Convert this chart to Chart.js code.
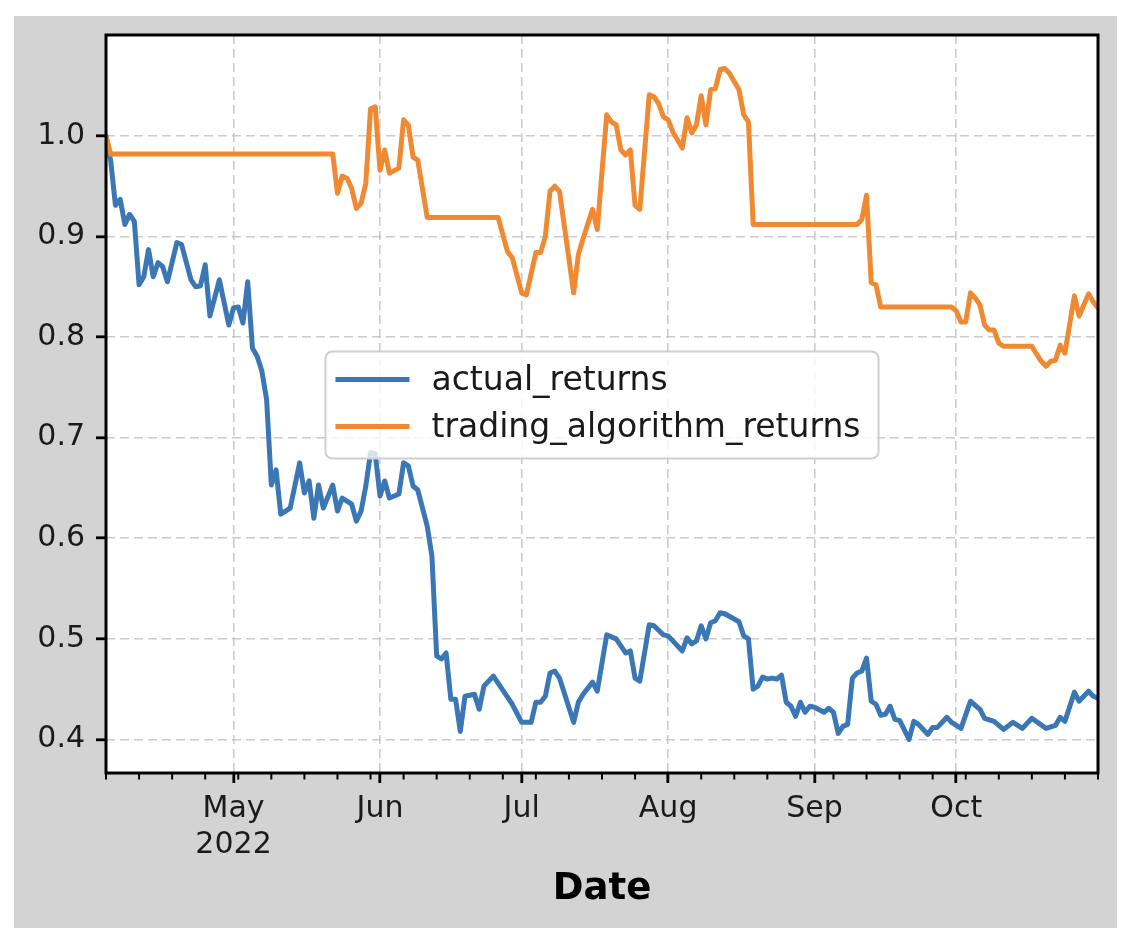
<!DOCTYPE html>
<html>
<head>
<meta charset="utf-8">
<script src="https://cdn.jsdelivr.net/npm/chart.js@4.4.1/dist/chart.umd.min.js"></script>
<style>
html,body{margin:0;padding:0;background:#ffffff;}
canvas{display:block;}
</style>
</head>
<body>
<canvas id="c" width="1134" height="942"></canvas>
<script>
// ---------------- data ----------------
const START_DATE = '2022-04-04';
const END_DATE = '2022-10-31';
const monthTickDates = ['2022-05-01','2022-06-01','2022-07-01','2022-08-01','2022-09-01','2022-10-01'];
const monthTickLabels = [['May','2022'],'Jun','Jul','Aug','Sep','Oct'];
const yTickValues = [0.4,0.5,0.6,0.7,0.8,0.9,1.0];
const seriesLabels = ['actual_returns','trading_algorithm_returns'];

const actualDates = [
'2022-04-04','2022-04-05','2022-04-06','2022-04-07','2022-04-08','2022-04-09','2022-04-10','2022-04-11','2022-04-12','2022-04-13',
'2022-04-14','2022-04-15','2022-04-16','2022-04-17','2022-04-19','2022-04-20','2022-04-22','2022-04-23','2022-04-24','2022-04-25',
'2022-04-26','2022-04-28','2022-04-30','2022-05-01','2022-05-02','2022-05-03','2022-05-04','2022-05-05','2022-05-06','2022-05-07',
'2022-05-08','2022-05-09','2022-05-10','2022-05-11','2022-05-13','2022-05-15','2022-05-16','2022-05-17','2022-05-18','2022-05-19',
'2022-05-20','2022-05-22','2022-05-23','2022-05-24','2022-05-26','2022-05-27','2022-05-28','2022-05-29','2022-05-30','2022-05-31',
'2022-06-01','2022-06-02','2022-06-03','2022-06-05','2022-06-06','2022-06-07','2022-06-08','2022-06-09','2022-06-11','2022-06-12',
'2022-06-13','2022-06-14','2022-06-15','2022-06-16','2022-06-17','2022-06-18','2022-06-19','2022-06-21','2022-06-22','2022-06-23',
'2022-06-25','2022-06-28','2022-06-29','2022-07-01','2022-07-03','2022-07-04','2022-07-05','2022-07-06','2022-07-07','2022-07-08',
'2022-07-09','2022-07-12','2022-07-13','2022-07-14','2022-07-16','2022-07-17','2022-07-19','2022-07-21','2022-07-23','2022-07-24',
'2022-07-25','2022-07-26','2022-07-28','2022-07-29','2022-07-31','2022-08-01','2022-08-04','2022-08-05','2022-08-06','2022-08-07',
'2022-08-08','2022-08-09','2022-08-10','2022-08-11','2022-08-12','2022-08-13','2022-08-16','2022-08-17','2022-08-18','2022-08-19',
'2022-08-20','2022-08-21','2022-08-22','2022-08-23','2022-08-24','2022-08-25','2022-08-26','2022-08-27','2022-08-28','2022-08-29',
'2022-08-30','2022-08-31','2022-09-01','2022-09-03','2022-09-04','2022-09-05','2022-09-06','2022-09-07','2022-09-08','2022-09-09',
'2022-09-10','2022-09-11','2022-09-12','2022-09-13','2022-09-14','2022-09-15','2022-09-16','2022-09-17','2022-09-18','2022-09-19',
'2022-09-21','2022-09-22','2022-09-23','2022-09-25','2022-09-26','2022-09-27','2022-09-29','2022-09-30','2022-10-02','2022-10-04',
'2022-10-06','2022-10-07','2022-10-09','2022-10-11','2022-10-13','2022-10-15','2022-10-17','2022-10-20','2022-10-22','2022-10-23',
'2022-10-24','2022-10-26','2022-10-27','2022-10-29','2022-10-30','2022-10-31'
];
const actualValues = [
1.000,0.975,0.931,0.937,0.912,0.922,0.915,0.852,0.860,0.887,
0.860,0.874,0.870,0.855,0.894,0.892,0.857,0.850,0.851,0.872,
0.821,0.857,0.812,0.829,0.830,0.814,0.855,0.789,0.781,0.766,
0.738,0.653,0.668,0.624,0.630,0.675,0.645,0.657,0.620,0.653,
0.630,0.653,0.627,0.640,0.634,0.617,0.627,0.652,0.685,0.684,
0.642,0.657,0.640,0.644,0.675,0.672,0.652,0.648,0.612,0.582,
0.483,0.480,0.486,0.440,0.440,0.408,0.443,0.445,0.430,0.453,
0.463,0.442,0.435,0.417,0.417,0.437,0.437,0.443,0.466,0.468,
0.461,0.417,0.437,0.445,0.457,0.448,0.504,0.500,0.486,0.488,
0.461,0.458,0.514,0.513,0.504,0.503,0.488,0.501,0.495,0.498,
0.513,0.500,0.516,0.518,0.526,0.525,0.517,0.503,0.500,0.450,
0.453,0.462,0.460,0.461,0.460,0.464,0.437,0.433,0.423,0.437,
0.427,0.433,0.432,0.427,0.431,0.427,0.406,0.413,0.415,0.461,
0.466,0.468,0.481,0.438,0.435,0.424,0.425,0.433,0.420,0.419,
0.400,0.418,0.415,0.405,0.412,0.412,0.422,0.417,0.411,0.438,
0.430,0.421,0.418,0.410,0.417,0.411,0.421,0.411,0.414,0.422,
0.418,0.447,0.438,0.448,0.443,0.441
];

const algoDates = [
'2022-04-04','2022-04-05','2022-05-22','2022-05-23','2022-05-24','2022-05-25','2022-05-26','2022-05-27','2022-05-28','2022-05-29',
'2022-05-30','2022-05-31','2022-06-01','2022-06-02','2022-06-03','2022-06-05','2022-06-06','2022-06-07','2022-06-08','2022-06-09',
'2022-06-11','2022-06-26','2022-06-28','2022-06-29','2022-07-01','2022-07-02','2022-07-04','2022-07-05','2022-07-06','2022-07-07',
'2022-07-08','2022-07-09','2022-07-12','2022-07-13','2022-07-14','2022-07-16','2022-07-17','2022-07-19','2022-07-20','2022-07-21',
'2022-07-22','2022-07-23','2022-07-24','2022-07-25','2022-07-26','2022-07-28','2022-07-29','2022-07-30','2022-07-31','2022-08-01',
'2022-08-02','2022-08-04','2022-08-05','2022-08-06','2022-08-07','2022-08-08','2022-08-09','2022-08-10','2022-08-11','2022-08-12',
'2022-08-13','2022-08-14','2022-08-16','2022-08-17','2022-08-18','2022-08-19','2022-09-10','2022-09-11','2022-09-12','2022-09-13',
'2022-09-14','2022-09-15','2022-09-30','2022-10-01','2022-10-02','2022-10-03','2022-10-04','2022-10-05','2022-10-06','2022-10-07',
'2022-10-08','2022-10-09','2022-10-10','2022-10-11','2022-10-17','2022-10-18','2022-10-19','2022-10-20','2022-10-21','2022-10-22',
'2022-10-23','2022-10-24','2022-10-26','2022-10-27','2022-10-29','2022-10-30','2022-10-31'
];
const algoValues = [
1.000,0.982,0.982,0.943,0.960,0.958,0.948,0.928,0.933,0.953,
1.027,1.029,0.966,0.986,0.963,0.968,1.016,1.011,0.979,0.976,
0.919,0.919,0.885,0.879,0.844,0.842,0.884,0.884,0.900,0.945,
0.950,0.945,0.844,0.882,0.898,0.927,0.907,1.021,1.014,1.011,
0.986,0.981,0.986,0.931,0.927,1.041,1.039,1.032,1.019,1.016,
1.004,0.988,1.018,1.003,1.011,1.040,1.011,1.046,1.047,1.066,
1.067,1.062,1.046,1.021,1.014,0.912,0.912,0.917,0.941,0.854,
0.852,0.830,0.830,0.826,0.815,0.815,0.844,0.839,0.832,0.812,
0.807,0.807,0.794,0.791,0.791,0.783,0.776,0.771,0.776,0.777,
0.792,0.784,0.841,0.821,0.843,0.835,0.829
];

// ---------------- helpers ----------------
function toUTC(s){ const p = s.split('-').map(Number); return Date.UTC(p[0], p[1]-1, p[2]); }
const T0 = toUTC(START_DATE);
function dayIndex(s){ return Math.round((toUTC(s) - T0) / 86400000); }
const xMax = dayIndex(END_DATE);

const allVals = actualValues.concat(algoValues);
const dMin = Math.min.apply(null, allVals), dMax = Math.max.apply(null, allVals);
const yMin = dMin - 0.05 * (dMax - dMin);
const yMaxV = dMax + 0.05 * (dMax - dMin);

// weekly minor ticks (Mondays)
const minorTicks = [];
for (let d = 0; d <= xMax; d++) {
  const wd = new Date(T0 + d * 86400000).getUTCDay();
  if (wd === 1) minorTicks.push(d);
}

const FONT = '"DejaVu Sans", "Liberation Sans", sans-serif';
const TEXT = '#1a1a1a';
const BLUE = '#3a77b4';
const ORANGE = '#f08a32';

const figurePlugin = {
  id: 'figure',
  beforeDraw(chart) {
    const ctx = chart.ctx, a = chart.chartArea;
    ctx.save();
    ctx.fillStyle = '#ffffff';
    ctx.fillRect(0, 0, chart.width, chart.height);
    ctx.fillStyle = '#d3d3d3';
    ctx.fillRect(14, 16, 1103, 912);
    ctx.fillStyle = '#ffffff';
    ctx.fillRect(a.left, a.top, a.right - a.left, a.bottom - a.top);
    ctx.restore();
  },
  afterDatasetsDraw(chart) {
    const ctx = chart.ctx, a = chart.chartArea, xs = chart.scales.x;
    ctx.save();
    // frame (spines)
    ctx.strokeStyle = '#000000';
    ctx.lineWidth = 3;
    ctx.strokeRect(a.left, a.top, a.right - a.left, a.bottom - a.top);
    // minor ticks
    ctx.lineWidth = 2;
    ctx.beginPath();
    minorTicks.forEach(d => {
      const px = xs.getPixelForValue(d);
      ctx.moveTo(px, a.bottom);
      ctx.lineTo(px, a.bottom + 6.5);
    });
    ctx.stroke();
    ctx.restore();
  },
  afterDraw(chart) {
    // legend, loc = center of axes
    const ctx = chart.ctx, a = chart.chartArea;
    const f = 33;
    ctx.save();
    ctx.font = f + 'px ' + FONT;
    const ds = chart.data.datasets;
    let tw = 0;
    ds.forEach(d => { tw = Math.max(tw, ctx.measureText(d.label).width); });
    const w = 106 + tw + 18, h = 107;
    const cx = (a.left + a.right) / 2, cy = (a.top + a.bottom) / 2;
    const L = cx - w / 2, T = cy - h / 2 + 1;
    ctx.beginPath();
    if (ctx.roundRect) ctx.roundRect(L, T, w, h, 7); else ctx.rect(L, T, w, h);
    ctx.fillStyle = 'rgba(255,255,255,0.8)';
    ctx.fill();
    ctx.strokeStyle = '#cfcfcf';
    ctx.lineWidth = 2;
    ctx.stroke();
    ds.forEach((d, i) => {
      const yy = T + 28 + i * 47;
      ctx.beginPath();
      ctx.strokeStyle = d.borderColor;
      ctx.lineWidth = 5;
      ctx.lineCap = 'butt';
      ctx.moveTo(L + 10, yy);
      ctx.lineTo(L + 84, yy);
      ctx.stroke();
      ctx.fillStyle = TEXT;
      ctx.textAlign = 'left';
      ctx.textBaseline = 'middle';
      ctx.fillText(d.label, L + 106, yy + 2);
    });
    ctx.restore();
  }
};

new Chart(document.getElementById('c'), {
  type: 'line',
  data: {
    datasets: [
      {
        label: seriesLabels[0],
        data: actualDates.map((d, i) => ({ x: dayIndex(d), y: actualValues[i] })),
        borderColor: BLUE, backgroundColor: BLUE,
        borderWidth: 5, pointRadius: 0, tension: 0, fill: false,
        borderJoinStyle: 'round', borderCapStyle: 'round', order: 1
      },
      {
        label: seriesLabels[1],
        data: algoDates.map((d, i) => ({ x: dayIndex(d), y: algoValues[i] })),
        borderColor: ORANGE, backgroundColor: ORANGE,
        borderWidth: 5, pointRadius: 0, tension: 0, fill: false,
        borderJoinStyle: 'round', borderCapStyle: 'round', order: 0
      }
    ]
  },
  options: {
    responsive: false,
    animation: false,
    devicePixelRatio: 1,
    parsing: false,
    normalized: true,
    layout: { padding: { top: 35, right: 36, bottom: 0, left: 0 } },
    plugins: { legend: { display: false }, tooltip: { enabled: false } },
    scales: {
      x: {
        type: 'linear',
        min: 0, max: xMax,
        afterBuildTicks(scale) { scale.ticks = monthTickDates.map(d => ({ value: dayIndex(d) })); },
        afterFit(scale) { scale.height = 169; },
        ticks: {
          autoSkip: false, maxRotation: 0, minRotation: 0,
          padding: 8,
          color: TEXT,
          font: { family: FONT, size: 30, lineHeight: 1.2 },
          callback: (v, i) => monthTickLabels[i]
        },
        grid: {
          color: 'rgba(190,190,190,0.8)', lineWidth: 1.6,
          drawTicks: true, tickLength: 10, tickColor: '#000000', tickWidth: 2.8, tickBorderDash: []
        },
        border: { display: false, dash: [9, 5] },
        title: {
          display: true, text: 'Date', color: '#000000',
          font: { family: FONT, size: 37, weight: 'bold', lineHeight: 1.2 },
          padding: { top: 0, bottom: 30 }
        }
      },
      y: {
        type: 'linear',
        min: yMin, max: yMaxV,
        afterBuildTicks(scale) { scale.ticks = yTickValues.map(v => ({ value: v })); },
        afterFit(scale) { scale.width = 106; },
        ticks: {
          padding: 11,
          color: TEXT,
          font: { family: FONT, size: 30 },
          callback: v => Number(v).toFixed(1)
        },
        grid: {
          color: 'rgba(190,190,190,0.8)', lineWidth: 1.6,
          drawTicks: true, tickLength: 10, tickColor: '#000000', tickWidth: 2.8, tickBorderDash: []
        },
        border: { display: false, dash: [9, 5] }
      }
    }
  },
  plugins: [figurePlugin]
});
</script>
</body>
</html>
